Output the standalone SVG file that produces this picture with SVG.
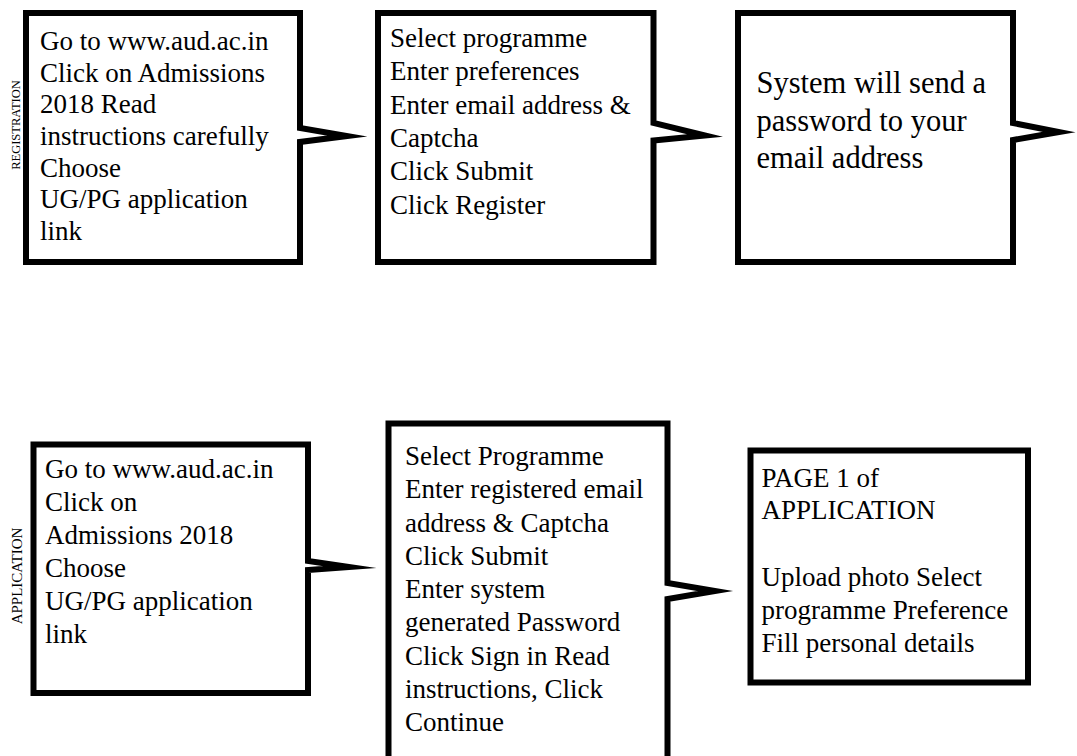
<svg xmlns="http://www.w3.org/2000/svg" width="1077" height="756" viewBox="0 0 1077 756">
<style>
.box{fill:#fff;stroke:#000;stroke-width:6;stroke-linejoin:miter;stroke-miterlimit:14}
.t{font-family:"Liberation Serif","Times New Roman",serif;font-size:27px;fill:#000}
.big{font-size:30.5px}
.side{font-family:"Liberation Serif","Times New Roman",serif;fill:#000;text-anchor:middle}
</style>
<rect width="1077" height="756" fill="#fff"/>
<g id="labels">
<text class="side" font-size="12.5" transform="translate(20,125) rotate(-90)">REGISTRATION</text>
<text class="side" font-size="15" transform="translate(22,576) rotate(-90)">APPLICATION</text>
</g>
<g id="connectors"></g>
<g id="reg1">
<path class="box" d="M26,13 H300 V128 L347,136 L300,142 V262 H26 Z"/>
<text class="t" x="40" y="50">Go to www.aud.ac.in</text>
<text class="t" x="40" y="81.7">Click on Admissions</text>
<text class="t" x="40" y="113.3">2018 Read</text>
<text class="t" x="40" y="145">instructions carefully</text>
<text class="t" x="40" y="176.7">Choose</text>
<text class="t" x="40" y="208.3">UG/PG application</text>
<text class="t" x="40" y="240">link</text>
</g>
<g id="reg2">
<path class="box" d="M378,13 H653.5 V123 L705,135.5 L653.5,140.5 V262 H378 Z"/>
<text class="t" x="390" y="47">Select programme</text>
<text class="t" x="390" y="80.3">Enter preferences</text>
<text class="t" x="390" y="113.6">Enter email address &amp;</text>
<text class="t" x="390" y="146.9">Captcha</text>
<text class="t" x="390" y="180.2">Click Submit</text>
<text class="t" x="390" y="213.5">Click Register</text>
</g>
<g id="reg3">
<path class="box" d="M738,13 H1013 V123 L1059,132 L1013,140 V262 H738 Z"/>
<text class="t big" x="756.5" y="93.3">System will send a</text>
<text class="t big" x="756.5" y="130.8">password to your</text>
<text class="t big" x="756.5" y="168.3">email address</text>
</g>
<g id="app1">
<path class="box" d="M33.5,444.5 H308 V561 L349,567 L308,570 V693 H33.5 Z"/>
<text class="t" x="45" y="478">Go to www.aud.ac.in</text>
<text class="t" x="45" y="511">Click on</text>
<text class="t" x="45" y="544">Admissions 2018</text>
<text class="t" x="45" y="577">Choose</text>
<text class="t" x="45" y="610">UG/PG application</text>
<text class="t" x="45" y="643">link</text>
</g>
<g id="app2">
<path class="box" d="M388.5,423.5 H667.5 V583 L715,591 L667.5,599 V775 H388.5 Z"/>
<text class="t" x="405" y="465">Select Programme</text>
<text class="t" x="405" y="498.25">Enter registered email</text>
<text class="t" x="405" y="531.5">address &amp; Captcha</text>
<text class="t" x="405" y="564.75">Click Submit</text>
<text class="t" x="405" y="598">Enter system</text>
<text class="t" x="405" y="631.25">generated Password</text>
<text class="t" x="405" y="664.5">Click Sign in Read</text>
<text class="t" x="405" y="697.75">instructions, Click</text>
<text class="t" x="405" y="731">Continue</text>
</g>
<g id="app3">
<rect class="box" x="750.5" y="450.5" width="277.5" height="232"/>
<text class="t" x="761.5" y="486.5">PAGE 1 of</text>
<text class="t" x="761.5" y="519">APPLICATION</text>
<text class="t" x="761.5" y="586">Upload photo Select</text>
<text class="t" x="761.5" y="619">programme Preference</text>
<text class="t" x="761.5" y="651.5">Fill personal details</text>
</g>
</svg>
